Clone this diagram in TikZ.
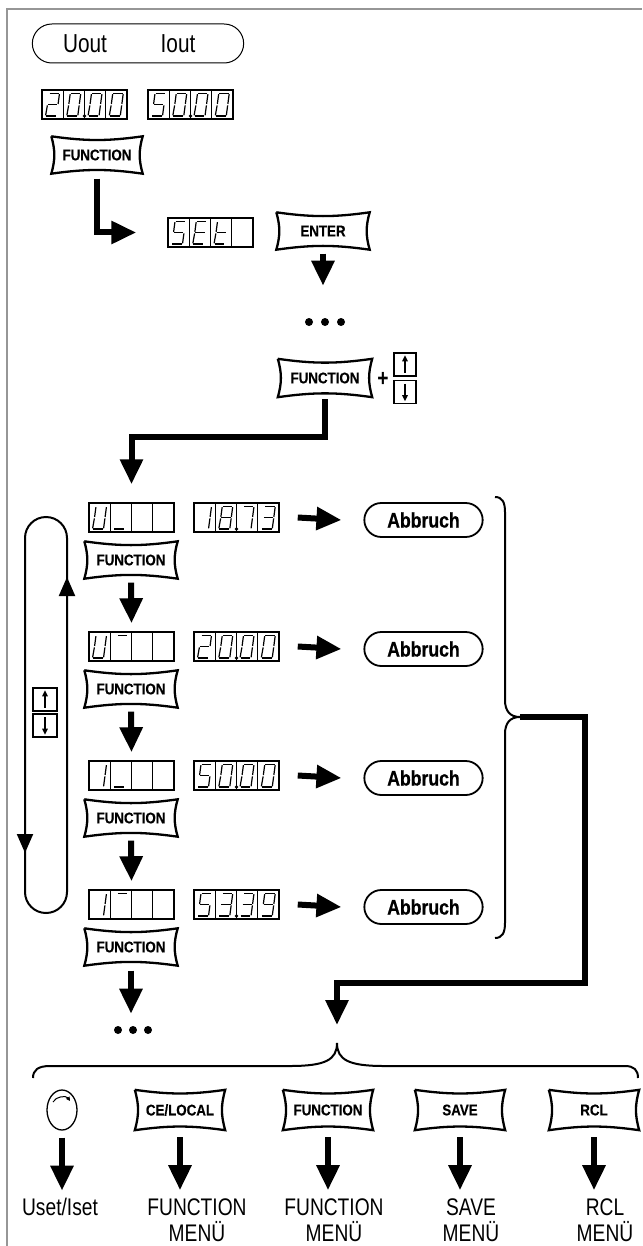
\documentclass[tikz,border=0pt]{standalone}
\usepackage{fontspec}
\setmainfont{Liberation Sans}[FakeStretch=0.8]
\newfontfamily\keyfam{Liberation Sans}[FakeStretch=0.86, FakeBold=0.4]
\newfontfamily\abfam{Liberation Sans}[FakeStretch=0.84, FakeBold=0.6]
\usetikzlibrary{arrows.meta, positioning, shapes.geometric, shapes.misc, calc}
\definecolor{framegray}{RGB}{150,150,150}

% fonts
\newcommand\keyfont{\keyfam\bfseries\fontsize{15.5}{16}\selectfont}
\newcommand\lblfont{\fontsize{24}{26}\selectfont}
\newcommand\abfont{\abfam\bfseries\fontsize{21}{22}\selectfont}

% seven segment glyphs (segments a b c d e f g)
\def\gZero{1111110}
\def\gOne{0110000}
\def\gTwo{1101101}
\def\gThree{1111001}
\def\gFive{1011011}
\def\gSeven{1110000}
\def\gEight{1111111}
\def\gNine{1111011}
\def\gE{1001111}
\def\gT{0001111}
\def\gU{0111110}
\def\gLow{0001000}
\def\gHigh{1000000}
\def\gNone{0000000}

% #1-#7 segments, #8 #9 top left corner of the cell
\newcommand\segdig[9]{%
  \ifnum#1=1 \draw[seg] (#8+7,#9+3.5) -- (#8+17.5,#9+3.5);\fi
  \ifnum#2=1 \draw[seg] (#8+17.5,#9+3.5) -- (#8+16,#9+14.7);\fi
  \ifnum#3=1 \draw[seg] (#8+16,#9+14.7) -- (#8+14.5,#9+26);\fi
  \ifnum#4=1 \draw[seg] (#8+3.5,#9+26) -- (#8+14.5,#9+26);\fi
  \ifnum#5=1 \draw[seg] (#8+5.5,#9+14.7) -- (#8+3.5,#9+26);\fi
  \ifnum#6=1 \draw[seg] (#8+7,#9+3.5) -- (#8+5.5,#9+14.7);\fi
  \ifnum#7=1 \draw[seg] (#8+5.5,#9+14.7) -- (#8+16,#9+14.7);\fi}
\newcommand\segcell[3]{\edef\segtmp{#3}\expandafter\segdig\segtmp{#1}{#2}}
% name, x, y, four glyphs, decimal point
\newcommand\sevdisp[8]{%
  \node[disp] (#1) at (#2+42.5,#3+14.5) {};
  \foreach \i in {1,2,3} \draw[cellline] (#2+21.25*\i,#3) -- ++(0,29);
  \segcell{#2}{#3}{#4}\segcell{#2+21.25}{#3}{#5}%
  \segcell{#2+42.5}{#3}{#6}\segcell{#2+63.75}{#3}{#7}%
  \ifnum#8=1 \fill (#2+42.5,#3+26) circle (1.8pt);\fi}

\begin{document}
\begin{tikzpicture}[x=1pt, y=-1pt,
  disp/.style={draw, line width=1.5pt, minimum width=85pt, minimum height=29pt, inner sep=0pt},
  cellline/.style={line width=1pt},
  seg/.style={line width=1.2pt, shorten <=0.7pt, shorten >=0.7pt},
  key/.style={font=\keyfont, minimum width=92pt, minimum height=37pt, inner sep=0pt},
  keyline/.style={line width=2.3pt},
  pill/.style={draw, rounded rectangle, line width=1.8pt, minimum width=125pt, minimum height=34pt, font=\abfont},
  lbl/.style={font=\lblfont, inner sep=0pt},
  ud/.style={draw, line width=1.4pt, minimum width=22pt, minimum height=23pt, inner sep=0pt},
  udarr/.style={line width=1.5pt, -{Triangle[length=6pt,width=5.5pt]}},
  bigarr/.style={line width=6pt, -{Triangle[length=25pt,width=22pt]}},
  looparr/.style={line width=2pt, -{Triangle[length=19pt,width=16pt]}},
  brace/.style={line width=2pt},
  frame/.style={draw=framegray, line width=2.5pt}]

\useasboundingbox (0,0) rectangle (642,1246);
\draw[frame] (7,1246) -- (7,9) -- (642,9);

% start
\node[draw, rounded rectangle, line width=1pt, minimum width=218pt, minimum height=39pt] (outpill) at (138,43.5) {};
\node[lbl, font=\fontsize{26}{28}\selectfont] (uout) at (85,43.5) {Uout};
\node[lbl, font=\fontsize{26}{28}\selectfont] (iout) at (178,43.5) {Iout};
\sevdisp{dU}{42}{90}{\gTwo}{\gZero}{\gZero}{\gZero}{1}
\sevdisp{dI}{148}{90}{\gFive}{\gZero}{\gZero}{\gZero}{1}
\node[key, minimum width=91pt] (kfn0) at (97,155) {FUNCTION};

\sevdisp{dset}{168}{218}{\gFive}{\gE}{\gT}{\gNone}{0}
\node[key, minimum width=93pt] (kenter) at (323,231) {ENTER};
\draw[bigarr, shorten >=31pt] ([yshift=-5pt]kfn0.south) |- (dset.west);
\draw[bigarr] ([yshift=-4pt]kenter.south) -- ++(0,32);
\foreach \dx in {-16,0,16} \fill (325+\dx,322) circle (4pt);

\node[key, minimum width=94pt, minimum height=38pt] (kfnup) at (325,378) {FUNCTION};
\node[font=\bfseries\fontsize{24}{24}\selectfont, inner sep=0pt] (plus) at (383,379) {+};
\node[ud] (up1) at (405,364.5) {};
\node[ud] (dn1) at (405,392) {};

% menu rows
\sevdisp{sA}{89}{503}{\gU}{\gLow}{\gNone}{\gNone}{0}
\sevdisp{vA}{194}{503}{\gOne}{\gEight}{\gSeven}{\gThree}{1}
\sevdisp{sB}{89}{632}{\gU}{\gHigh}{\gNone}{\gNone}{0}
\sevdisp{vB}{194}{632}{\gTwo}{\gZero}{\gZero}{\gZero}{1}
\sevdisp{sC}{89}{761}{\gOne}{\gLow}{\gNone}{\gNone}{0}
\sevdisp{vC}{194}{761}{\gFive}{\gZero}{\gZero}{\gZero}{1}
\sevdisp{sD}{89}{890}{\gOne}{\gHigh}{\gNone}{\gNone}{0}
\sevdisp{vD}{194}{890}{\gFive}{\gThree}{\gThree}{\gNine}{1}
\draw[bigarr, shorten >=18pt] ([yshift=-2pt]kfnup.south) |- ($(sA.north)+(0,-65)$) -- (sA.north);

\foreach \r/\y in {A/503,B/632,C/761,D/890}{
  \node[key, minimum width=93pt] (fn\r) at (131,\y+57) {FUNCTION};
  \node[pill] (ab\r) at (423.5,\y+17) {Abbruch};
  \draw[bigarr] ([xshift=18pt]v\r.east) -- ([xshift=-22pt]ab\r.west);
}
\foreach \a/\b in {A/B,B/C,C/D}
  \draw[bigarr] ([yshift=-4pt]fn\a.south) -- ([yshift=8pt]s\b.north);
\draw[bigarr] ([yshift=-5pt]fnD.south) -- ++(0,43);
\foreach \dx in {-15,0,15} \fill (133+\dx,1030) circle (4pt);

% up/down loop
\draw[line width=2pt, rounded corners=21pt] (25,517) rectangle (67,913);
\draw[looparr] (67,640) -- (67,577);
\draw[looparr] (25,790) -- (25,853);
\node[ud, minimum width=24pt] (up2) at (45,699.5) {};
\node[ud, minimum width=24pt] (dn2) at (45,725.5) {};
\foreach \u/\d in {up1/dn1,up2/dn2}{
  \draw[udarr] ([yshift=4pt]\u.south) -- ([yshift=-3pt]\u.north);
  \draw[udarr] ([yshift=-4pt]\d.north) -- ([yshift=3pt]\d.south);
}

% braces
\coordinate (rcusp) at (520,717);
\coordinate (bcusp) at (337,1043);
\draw[brace] (495,497) .. controls (502,497) and (505,502) .. (505,512) -- (505,700)
  .. controls (505,711) and (510,717) .. (rcusp)
  .. controls (510,717) and (505,723) .. (505,734) -- (505,923)
  .. controls (505,933) and (502,938) .. (495,938);
\draw[bigarr, shorten >=18pt] (rcusp) -| (585,983) -| (bcusp);
\draw[brace] (33,1078) .. controls (33,1070) and (38,1066) .. (50,1066) -- (290,1066)
  .. controls (325,1066) and (337,1060) .. (bcusp)
  .. controls (337,1060) and (349,1066) .. (384,1066) -- (625,1066)
  .. controls (634,1066) and (638,1070) .. (638,1078);

% bottom keys
\node[draw, ellipse, line width=1.3pt, minimum width=30pt, minimum height=40pt, inner sep=0pt] (knob) at (62,1110) {};
\draw[line width=1pt, -{Triangle[length=4pt,width=4pt]}] ([xshift=-9pt,yshift=8pt]knob.center) to[bend left=60] ([xshift=8pt,yshift=9pt]knob.center);
\node[key, minimum width=90pt, minimum height=40pt] (kce) at (180,1110) {CE/LOCAL};
\node[key, minimum width=90pt, minimum height=40pt] (kfn) at (328,1110) {FUNCTION};
\node[key, minimum width=90pt, minimum height=40pt] (ksave) at (460,1110) {SAVE};
\node[key, minimum width=90pt, minimum height=40pt] (krcl) at (594,1110) {RCL};
\foreach \k in {knob,kce,kfn,ksave,krcl}
  \draw[bigarr] ([yshift=-7pt]\k.south) -- ++(0,53);

\node[lbl] (mset) at (60,1207) {Uset/Iset};
\node[lbl, align=center] (mce) at (197,1220) {FUNCTION\\MENÜ};
\node[lbl, align=center] (mfn) at (334,1220) {FUNCTION\\MENÜ};
\node[lbl, align=center] (msave) at (471,1220) {SAVE\\MENÜ};
\node[lbl, align=center] (mrcl) at (605,1220) {RCL\\MENÜ};

% key outlines
\foreach \k in {kfn0,kenter,kfnup,fnA,fnB,fnC,fnD,kce,kfn,ksave,krcl}
  \draw[keyline] (\k.north west) to[bend right=8] (\k.north east) to[bend right=16] (\k.south east)
    to[bend right=8] (\k.south west) to[bend right=16] (\k.north west);
\end{tikzpicture}
\end{document}
